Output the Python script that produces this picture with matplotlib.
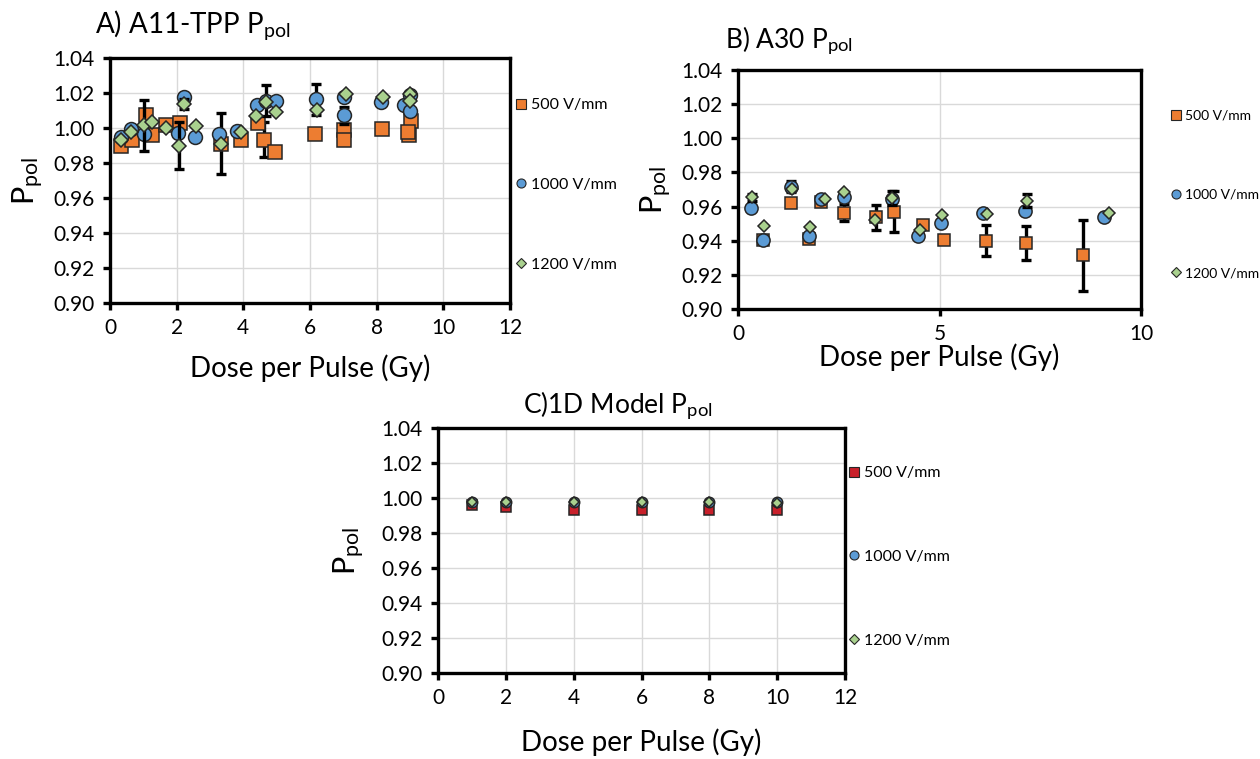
import numpy as np
import matplotlib
matplotlib.use('Agg')
import matplotlib.pyplot as plt
from matplotlib.lines import Line2D

plt.rcParams['font.family'] = ['Lato', 'DejaVu Sans']
plt.rcParams['mathtext.fontset'] = 'custom'
plt.rcParams['mathtext.rm'] = 'Lato'
plt.rcParams['mathtext.it'] = 'Lato:italic'

# ---- data ----
labels = ['500 V/mm', '1000 V/mm', '1200 V/mm']

# A) A11-TPP
a_x_500 = [0.32, 0.65, 1.07, 1.27, 1.67, 2.10, 3.32, 3.92, 4.44, 4.62, 4.95, 6.15, 7.03, 7.03, 8.17, 8.97, 9.02, 8.95]
a_y_500 = [0.990, 0.9934, 1.0072, 0.9958, 1.0015, 1.0028, 0.991, 0.993, 1.0028, 0.9934, 0.9863, 0.9968, 0.9987, 0.9934, 0.9996, 0.9958, 1.0038, 0.998]
a_e_500 = [0, 0, 0, 0, 0, 0, 0.0175, 0, 0, 0.010, 0, 0, 0, 0, 0, 0, 0, 0]

a_x_1000 = [0.32, 0.62, 1.02, 2.05, 2.22, 2.55, 3.27, 3.82, 4.42, 4.67, 4.97, 6.17, 7.02, 7.02, 8.12, 8.82, 8.99, 8.99]
a_y_1000 = [0.9949, 0.9996, 0.9964, 0.9972, 1.018, 0.9949, 0.9964, 0.9983, 1.0129, 1.0157, 1.0154, 1.0163, 1.0072, 1.0175, 1.0148, 1.0133, 1.010, 1.0186]
a_e_1000 = [0, 0, 0, 0, 0, 0, 0, 0, 0, 0.009, 0, 0.009, 0.005, 0, 0, 0, 0, 0]

a_x_1200 = [0.34, 0.64, 1.02, 1.27, 1.69, 2.07, 2.22, 2.57, 3.32, 3.92, 4.37, 4.67, 4.97, 6.2, 7.07, 8.19, 8.99, 8.99]
a_y_1200 = [0.993, 0.9977, 1.0015, 1.0034, 1.000, 0.990, 1.0138, 1.0011, 0.9907, 0.9977, 1.0068, 1.0148, 1.0091, 1.0104, 1.0195, 1.0176, 1.0195, 1.0154]
a_e_1200 = [0, 0, 0.0145, 0, 0, 0.0135, 0.003, 0, 0, 0, 0, 0, 0, 0, 0, 0, 0, 0]

# B) A30
b_x_500 = [0.63, 1.31, 1.77, 2.06, 2.62, 3.42, 3.86, 4.59, 5.11, 6.16, 7.14, 8.55]
b_y_500 = [0.9405, 0.9623, 0.9409, 0.9629, 0.9565, 0.9538, 0.9571, 0.9493, 0.9405, 0.940, 0.9386, 0.9314]
b_e_500 = [0, 0.002, 0, 0, 0.005, 0.0073, 0.012, 0, 0, 0.009, 0.010, 0.0207]

b_x_1000 = [0.32, 0.63, 1.31, 1.77, 2.06, 2.62, 3.82, 4.47, 5.04, 6.08, 7.12, 9.07]
b_y_1000 = [0.9594, 0.9405, 0.9717, 0.9425, 0.9643, 0.9655, 0.9643, 0.9429, 0.9503, 0.9561, 0.9575, 0.9536]
b_e_1000 = [0, 0, 0.003, 0, 0, 0, 0, 0, 0, 0, 0, 0]

b_x_1200 = [0.34, 0.65, 1.33, 1.79, 2.16, 2.64, 3.41, 3.82, 4.51, 5.07, 6.17, 7.18, 9.21]
b_y_1200 = [0.9655, 0.9487, 0.9701, 0.9479, 0.9643, 0.9688, 0.9522, 0.9649, 0.946, 0.9551, 0.9555, 0.9635, 0.9565]
b_e_1200 = [0.002, 0, 0, 0, 0, 0, 0, 0.004, 0, 0, 0, 0.004, 0]

# C) 1D model
c_x = [1, 2, 4, 6, 8, 10]
c_y_500 = [0.996, 0.995, 0.993, 0.993, 0.993, 0.993]
c_y_1000 = [0.998, 0.998, 0.998, 0.998, 0.998, 0.998]
c_y_1200 = [0.9975, 0.9975, 0.9975, 0.9975, 0.9975, 0.997]

orange = '#ED7D31'
blue = '#5B9BD5'
green = '#A9D18E'
red = '#C8202A'
edge = '#262626'

W, H = 1260, 759
fig = plt.figure(figsize=(W / 100, H / 100), dpi=100)


def px_axes(left, top, right, bottom):
    return fig.add_axes([left / W, 1 - bottom / H, (right - left) / W, (bottom - top) / H])


def style(ax, xmax, xstep):
    ax.set_xlim(0, xmax)
    ax.set_ylim(0.90, 1.04)
    ax.set_xticks(np.arange(0, xmax + 0.01, xstep))
    ax.set_yticks(np.arange(0.90, 1.0401, 0.02))
    ax.yaxis.set_major_formatter(matplotlib.ticker.FormatStrFormatter('%.2f'))
    ax.grid(True, color='#d9d9d9', lw=1)
    ax.set_axisbelow(True)
    for s in ax.spines.values():
        s.set_linewidth(2.4)
        s.set_color('black')
    ax.tick_params(direction='out', length=5, width=2.4, labelsize=15, pad=6,
                   top=False, right=False)


def series(ax, x, y, err, marker, color, ms, z):
    x = np.array(x); y = np.array(y); err = np.array(err)
    m = err > 0
    if m.any():
        ax.errorbar(x[m], y[m], yerr=err[m], fmt='none', ecolor='black',
                    elinewidth=2.4, capsize=3.5, capthick=2.4, zorder=z - 0.5)
    ax.plot(x, y, linestyle='none', marker=marker, ms=ms, mfc=color,
            mec=edge, mew=1.1, zorder=z)


def legend(ax, colors, x, y_top, spacing, fs):
    handles = [Line2D([], [], ls='none', marker=mk, ms=s, mfc=c, mec=edge, mew=0.8)
               for mk, c, s in zip(['s', 'o', 'D'], colors, [6.5, 6.5, 5])]
    ax.legend(handles, labels, loc='upper left', bbox_to_anchor=(x / W, 1 - y_top / H),
              bbox_transform=fig.transFigure, frameon=False, fontsize=fs,
              handlelength=0.7, handletextpad=0.3, labelspacing=spacing,
              borderpad=0, borderaxespad=0)


ylab = 'P$_{\\mathrm{pol}}$'


def labels_for(ax, xl_y, yl_x):
    ax.set_xlabel('Dose per Pulse (Gy)', fontsize=20)
    ax.set_ylabel(ylab, fontsize=22)
    ax.xaxis.set_label_coords(0.5, xl_y)
    ax.yaxis.set_label_coords(yl_x, 0.5)


# panel A
axA = px_axes(110, 58, 510, 303)
style(axA, 12, 2)
series(axA, a_x_500, a_y_500, a_e_500, 's', orange, 9.5, 3)
series(axA, a_x_1000, a_y_1000, a_e_1000, 'o', blue, 10, 4)
series(axA, a_x_1200, a_y_1200, a_e_1200, 'D', green, 7, 5)
labels_for(axA, -0.21, -0.16)
legend(axA, [orange, blue, green], 515, 98, 4.1, 11.5)
fig.text(95 / W, 1 - 33 / H, 'A) A11-TPP ' + ylab, fontsize=20, va='baseline')

# panel B
axB = px_axes(738, 70, 1141, 309)
style(axB, 10, 5)
series(axB, b_x_500, b_y_500, b_e_500, 's', orange, 9, 3)
series(axB, b_x_1000, b_y_1000, b_e_1000, 'o', blue, 9.5, 4)
series(axB, b_x_1200, b_y_1200, b_e_1200, 'D', green, 6.5, 5)
labels_for(axB, -0.145, -0.16)
legend(axB, [orange, blue, green], 1171, 110, 4.8, 10)
fig.text(725 / W, 1 - 48 / H, 'B) A30 ' + ylab, fontsize=19, va='baseline')

# panel C
axC = px_axes(438, 428, 845, 673)
style(axC, 12, 2)
series(axC, c_x, c_y_500, [0] * 6, 's', red, 7.5, 3)
series(axC, c_x, c_y_1000, [0] * 6, 'o', blue, 7.5, 4)
series(axC, c_x, c_y_1200, [0] * 6, 'D', green, 5.5, 5)
labels_for(axC, -0.225, -0.175)
legend(axC, [red, blue, green], 848, 466, 4.35, 11.5)
fig.text(523 / W, 1 - 413 / H, 'C)1D Model ' + ylab, fontsize=19, va='baseline')

fig.savefig('out.png', dpi=100)
